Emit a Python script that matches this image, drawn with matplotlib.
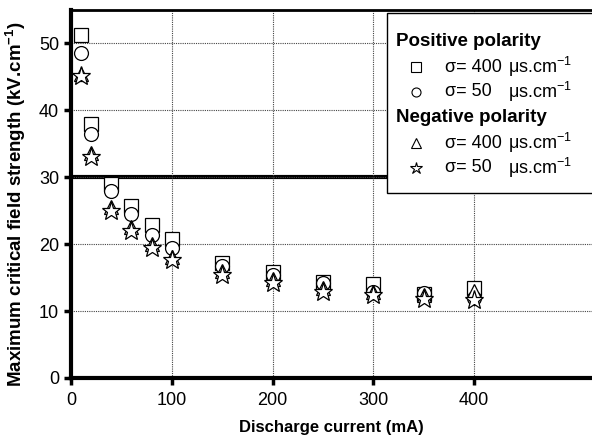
import matplotlib.pyplot as plt
from matplotlib.patches import Rectangle

plt.rcParams['font.family'] = ['Liberation Sans', 'DejaVu Sans']
plt.rcParams['mathtext.fontset'] = 'custom'
plt.rcParams['mathtext.rm'] = 'Liberation Sans'
plt.rcParams['mathtext.bf'] = 'Liberation Sans:bold'

#Data
current = [10, 20, 40, 60, 80, 100, 150, 200, 250, 300, 350, 400]
pos_400 = [51.3, 37.9, 29.0, 25.7, 22.8, 20.7, 17.2, 15.8, 14.3, 14.0, 12.5, 13.5]
pos_50 = [48.6, 36.4, 28.0, 24.5, 21.3, 19.5, 16.8, 15.4, 14.2, 12.9, 12.7, 12.0]
neg_400 = [45.5, 33.6, 25.6, 22.6, 20.0, 18.1, 16.0, 14.8, 13.4, 12.9, 12.4, 13.0]
neg_50 = [45.2, 33.1, 24.9, 22.0, 19.4, 17.7, 15.4, 14.2, 12.9, 12.4, 11.8, 11.6]

xticks = [0, 100, 200, 300, 400]
yticks = [0, 10, 20, 30, 40, 50]

fig = plt.figure(figsize=(5.92, 4.38), dpi=100)
ax = fig.add_axes([71/592, 1 - 378/438, 521/592, 368/438])

#grid and the thick line at 30
ax.grid(True, linestyle=(0, (1, 1)), color='#444444', linewidth=0.8)
ax.axhline(30, color='black', linewidth=3, zorder=1.5)

ms = 10
mk = dict(linestyle='none', markerfacecolor='white', markeredgecolor='black', markeredgewidth=0.9)
ax.plot(current, pos_400, marker='s', markersize=ms, zorder=3, **mk)
ax.plot(current, pos_50, marker='o', markersize=ms, zorder=4, **mk)
ax.plot(current, neg_400, marker='^', markersize=ms, zorder=5, **mk)
ax.plot(current, neg_50, marker='*', markersize=ms + 4, zorder=6, **mk)

ax.set_xlim(0, 517)
ax.set_ylim(0, 55)
ax.set_xticks(xticks)
ax.set_yticks(yticks)
ax.tick_params(direction='out', length=5, width=2.5, labelsize=13)
ax.tick_params(axis='x', pad=5)
ax.spines['left'].set_linewidth(3)
ax.spines['bottom'].set_linewidth(3)
ax.spines['top'].set_linewidth(2)
ax.spines['right'].set_visible(False)

ax.set_xlabel('Discharge current (mA)', fontsize=12, fontweight='bold', labelpad=8)
ax.set_ylabel(r'Maximum critical field strength (kV.cm$^{\mathbf{-1}}$)', fontsize=13.5,
              fontweight='bold')
ax.yaxis.set_label_coords(-43/521, (378 - 204)/368)

#Legend box
def axx(px):
    return (px - 71) / 521

def axy(py):
    return (378 - py) / 368

ax.add_patch(Rectangle((axx(387), axy(193)), axx(600) - axx(387), axy(13) - axy(193),
                       transform=ax.transAxes, facecolor='white', edgecolor='black',
                       linewidth=1, zorder=10, clip_on=False))

ax.text(axx(396), axy(41), 'Positive polarity', transform=ax.transAxes, fontsize=13.5,
        fontweight='bold', va='center', zorder=11)
ax.text(axx(396), axy(118), 'Negative polarity', transform=ax.transAxes, fontsize=13.5,
        fontweight='bold', va='center', zorder=11)

entries = [('s', '400', 67, 6.5), ('o', '50', 92, 6.5), ('^', '400', 143, 7), ('*', '50', 168, 9)]
for m, s, py, size in entries:
    ax.plot([axx(416)], [axy(py)], marker=m, markersize=size, transform=ax.transAxes,
            markerfacecolor='white', markeredgecolor='black', markeredgewidth=0.8,
            zorder=11, clip_on=False)
    ax.text(axx(445), axy(py), 'σ= ' + s, transform=ax.transAxes, fontsize=13,
            va='center', zorder=11)
    ax.text(axx(508), axy(py), r'μs.cm$^{-1}$', transform=ax.transAxes, fontsize=13,
            va='center', zorder=11)

fig.savefig('out.png', dpi=100)
